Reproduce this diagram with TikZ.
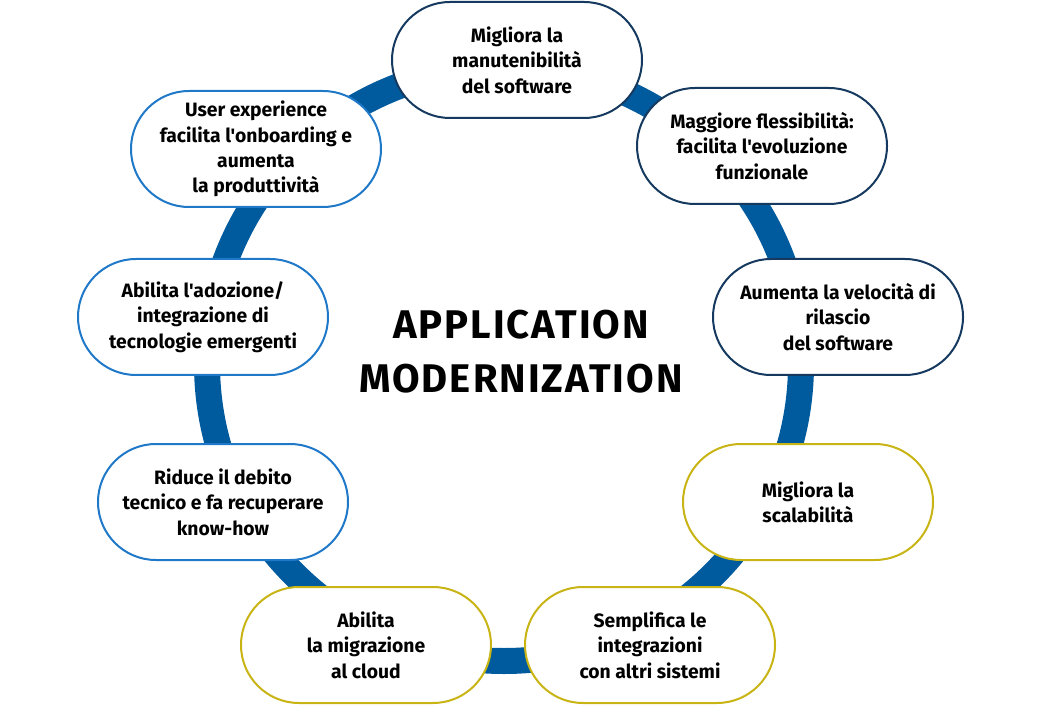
\documentclass[tikz,border=0pt]{standalone}
\usepackage{fontspec}
\newfontfamily\myfont{Fira Sans}
\newfontfamily\mytitlefont{Fira Sans}[LetterSpace=5]
\definecolor{ringblue}{HTML}{005A9E}
\definecolor{navyb}{HTML}{163A5F}
\definecolor{lightb}{HTML}{1F78C8}
\definecolor{yellowb}{HTML}{C8B414}
\tikzset{
  benefit/.style={draw, line width=1.5pt, fill=white, rounded corners=43.5pt,
    minimum width=187.5pt, minimum height=87pt, align=center, inner sep=2pt,
    font=\myfont\bfseries\fontsize{14.5}{19}\selectfont, text=black},
  navyn/.style={benefit, draw=navyb},
  bluen/.style={benefit, draw=lightb},
  yelln/.style={benefit, draw=yellowb},
  titlen/.style={align=center, font=\mytitlefont\bfseries\fontsize{30}{40.5}\selectfont, text=black}
}
\begin{document}
\begin{tikzpicture}[x=0.75pt,y=-0.75pt]
\useasboundingbox (0,0) rectangle (1041,705);
\coordinate (c) at (504,364);
\draw[ringblue, line width=19.5pt] (c) circle[radius=222.75pt];
\node[navyn] (n1) at (517,60) {Migliora la\\manutenibilità\\del software};
\node[navyn] (n2) at (762,146) {Maggiore flessibilità:\\facilita l'evoluzione\\funzionale};
\node[navyn] (n3) at (838,317) {Aumenta la velocità di\\rilascio\\del software};
\node[yelln] (n4) at (808,502) {Migliora la\\scalabilità};
\node[yelln] (n5) at (650,645) {Semplifica le\\integrazioni\\con altri sistemi};
\node[yelln] (n6) at (366,645) {Abilita\\la migrazione\\al cloud};
\node[bluen] (n7) at (223,502) {Riduce il debito\\tecnico e fa recuperare\\know-how};
\node[bluen] (n8) at (203,317) {Abilita l'adozione/\\integrazione di\\tecnologie emergenti};
\node[bluen] (n9) at (256,149) {User experience\\facilita l'onboarding e\\aumenta\\la produttività};
\node[titlen] (t) at (521,352) {APPLICATION\\MODERNIZATION};
\end{tikzpicture}
\end{document}
